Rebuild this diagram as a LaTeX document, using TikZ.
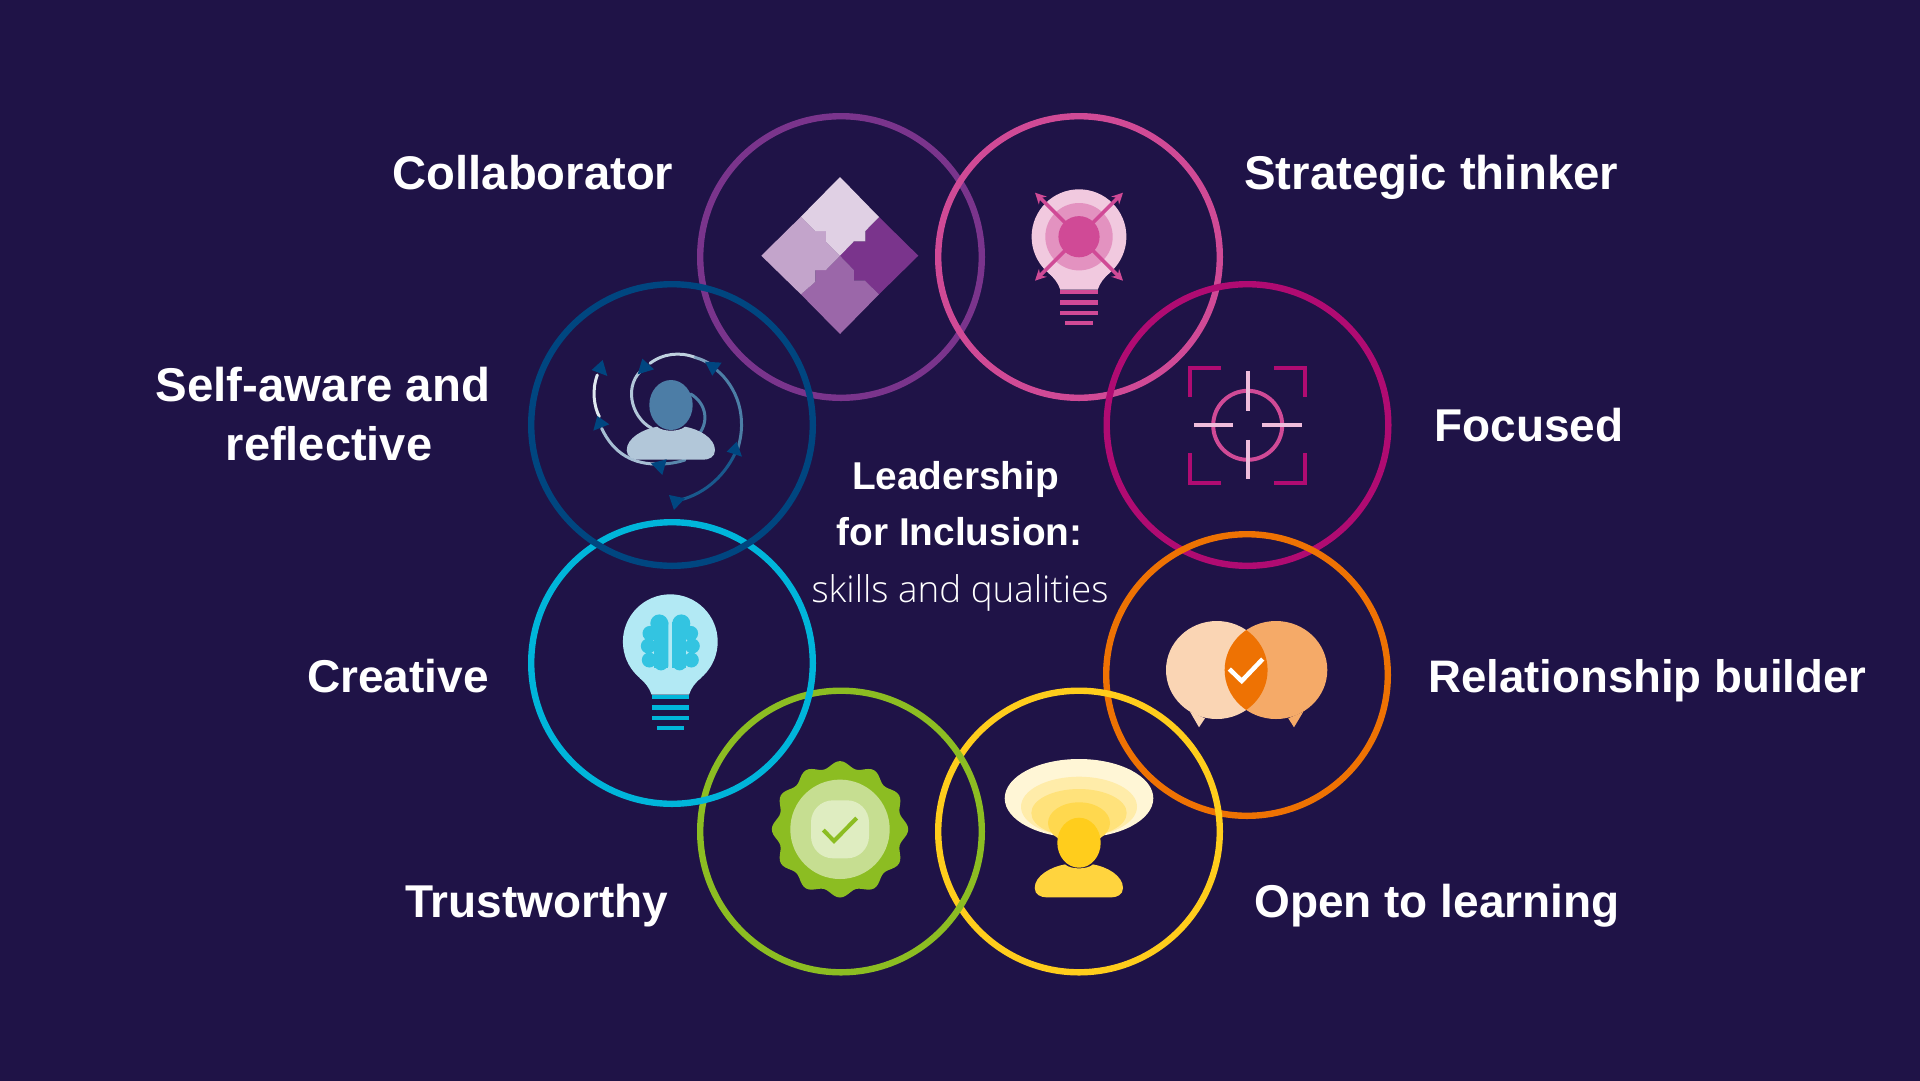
\documentclass[tikz,border=0pt]{standalone}
\usepackage{fontspec}
\usepackage{xcolor}
\usepackage{tikz}
\usetikzlibrary{arrows.meta,positioning}
\setmainfont{Liberation Sans}
\newfontfamily\lightfont[UprightFont={* Light}]{Open Sans}
\definecolor{bgNavy}{HTML}{1F1347}
\definecolor{ringPurple}{HTML}{7A348C}
\definecolor{ringPink}{HTML}{D04A96}
\definecolor{ringMagenta}{HTML}{B00B72}
\definecolor{ringOrange}{HTML}{EE7203}
\definecolor{ringYellow}{HTML}{FFCD1C}
\definecolor{ringGreen}{HTML}{8CBD22}
\definecolor{ringCyan}{HTML}{00B5DA}
\definecolor{ringBlue}{HTML}{004680}
\definecolor{hairPink}{HTML}{EFBDDC}
\newcommand{\drawbulb}[4]{
  \begin{scope}[shift={(#1,#2)}]
    \fill[#3] (0,0) circle[radius=47.4];
    \fill[#3] (-31,36) .. controls (-25,41) and (-21,46) .. (-18.7,53) -- (18.7,53) .. controls (21,46) and (25,41) .. (31,36) -- cycle;
    \foreach \y in {53.2,63.4,73.8} \fill[#4] (-18.7,\y) rectangle (18.7,\y+4.4);
    \fill[#4] (-13.7,84.1) rectangle (13.7,88.5);
  \end{scope}
}
\newcommand{\drawperson}[4]{
  \begin{scope}[shift={(#1,#2)}]
    \fill[#4] (-44.3,45.3) .. controls (-44.3,33) and (-28,24) .. (-14,21.7) .. controls (-8,27) and (8,27) .. (14,21.7) .. controls (28,24) and (44,33) .. (44,45.3) .. controls (44,52) and (38,54.7) .. (32,54.7) -- (-32,54.7) .. controls (-38,54.7) and (-44.3,52) .. (-44.3,45.3) -- cycle;
    \fill[#3] (0,0) ellipse[x radius=21.7, y radius=25];
  \end{scope}
}
\begin{document}
\begin{tikzpicture}[
  x=1pt, y=-1pt,
  ring/.style={circle, line width=6.4pt, minimum size=281.6pt, inner sep=0pt},
  label/.style={text=white, inner sep=0pt, font=\fontsize{#1}{59}\selectfont\bfseries},
  label/.default=46,
  centre/.style={text=white, inner sep=0pt, anchor=base, font=\fontsize{#1}{46}\selectfont\bfseries},
  centre/.default=38.8,
  spoke/.style={-{Stealth[length=11pt,width=11pt]}, line width=3.5pt, draw=ringPink},
  bracket/.style={line width=4pt, draw=ringMagenta},
  hair/.style={line width=4pt, draw=hairPink},
  swirl/.style={line width=3pt, line cap=round},
  swirlhead/.style={fill=ringBlue}
]
\useasboundingbox (0,0) rectangle (1920,1080);
\fill[bgNavy] (-4,-4) rectangle (1924,1084);

% rings
\node[ring, draw=ringPurple] (collab) at (841,257) {};
\node[ring, draw=ringPink] (thinker) at (1079,257) {};
\node[ring, draw=ringMagenta] (focused) at (1247.5,425) {};
\node[ring, draw=ringOrange] (builder) at (1247,675) {};
\node[ring, draw=ringYellow] (learning) at (1079,831.5) {};
\node[ring, draw=ringGreen] (trust) at (841,831.5) {};
\node[ring, draw=ringCyan] (creative) at (672,663) {};
\node[ring, draw=ringBlue] (selfaware) at (672,425) {};

% labels
\node[label=47.2, anchor=base east] (collabText) at (673.5,189) {Collaborator};
\node[label=47.4, anchor=base west] (thinkerText) at (1244,189) {Strategic thinker};
\node[label, anchor=base west] (focusedText) at (1434,441) {Focused};
\node[label=45.6, anchor=base west] (builderText) at (1428,692) {Relationship builder};
\node[label, anchor=base west] (learningText) at (1254,917) {Open to learning};
\node[label, anchor=base east] (trustText) at (668.5,917) {Trustworthy};
\node[label, anchor=base east] (creativeText) at (489,692) {Creative};
\node[label=47.4, anchor=base] (selfText) at (323,401.5) {Self-aware and};
\node[label=47, anchor=base] (reflectText) at (329,460.5) {reflective};
\node[centre] (titleA) at (955.5,489.5) {Leadership};
\node[centre] (titleB) at (959.5,545.5) {for Inclusion:};
\node[centre, font=\fontsize{36.8}{46}\selectfont\lightfont] (titleC) at (960,602) {skills and qualities};

% puzzle
\fill[ringPurple] (879,217) -- (918.3,255.7) -- (879,294.3) -- (864.6,280.3) -- (853.9,280.3) -- (853.9,270) -- (840,255.7) -- (853.9,241.3) -- (865.3,241.3) -- (865.3,231) -- cycle;
\fill[ringPurple!75!white] (840,255.7) -- (853.9,270) -- (853.9,280.3) -- (864.6,280.3) -- (879,294.3) -- (840,334) -- (800.9,294.3) -- (815.4,281.7) -- (815.4,270) -- (826,270) -- cycle;
\fill[ringPurple!45!white] (761.3,255.7) -- (800.9,216.7) -- (815.4,231) -- (826,231) -- (826,241.7) -- (840,255.7) -- (826,270) -- (815.4,270) -- (815.4,281.7) -- (800.9,294.3) -- cycle;
\fill[ringPurple!23!white] (840,177) -- (879,217) -- (865.3,231) -- (865.3,241.3) -- (853.9,241.3) -- (840,255.7) -- (826,241.7) -- (826,231) -- (815.4,231) -- (800.9,216.7) -- cycle;

% target bulb
\drawbulb{1079}{236.7}{ringPink!30!white}{ringPink}
\fill[ringPink!60!white] (1079,236.7) circle[radius=33.7];
\fill[ringPink] (1079,236.7) circle[radius=20.6];
\foreach \sx/\sy in {1/-1,-1/-1,-1/1,1/1}
  \draw[spoke] (1079+\sx*14,236.7+\sy*14) -- (1079+\sx*44,236.7+\sy*44);

% crosshair
\begin{scope}[shift={(1247.7,425.3)}]
  \draw[line width=4pt, draw=ringPink] (0,0) circle[radius=34.5];
  \foreach \sx/\sy in {1/1,1/-1,-1/1,-1/-1}
    \draw[bracket] (\sx*26.4,\sy*57.7) -- (\sx*57.7,\sy*57.7) -- (\sx*57.7,\sy*28);
  \foreach \s in {1,-1} {
    \draw[hair] (0,\s*14.5) -- (0,\s*54);
    \draw[hair] (\s*14.5,0) -- (\s*54,0);
  }
\end{scope}

% speech bubbles
\fill[ringOrange!30!white] (1190,711.7) -- (1199,727.3) -- (1205,718.3) -- cycle;
\fill[ringOrange!30!white] (1216.8,670) ellipse[x radius=50.8, y radius=49];
\fill[ringOrange!60!white] (1288.3,718.3) -- (1294,727.3) -- (1303.3,711.7) -- cycle;
\fill[ringOrange!60!white] (1276,670) ellipse[x radius=51.3, y radius=49];
\begin{scope}
  \clip (1216.8,670) ellipse[x radius=50.8, y radius=49];
  \fill[ringOrange] (1276,670) ellipse[x radius=51.3, y radius=49];
\end{scope}
\draw[white, line width=4.5pt] (1229.3,669) -- (1241.7,681) -- (1262.7,659);

% light above head
\fill[ringYellow!18!white] (1079,798.3) ellipse[x radius=74.3, y radius=39.3];
\fill[ringYellow!38!white] (1079,806.7) ellipse[x radius=58, y radius=30];
\fill[ringYellow!58!white] (1079,813) ellipse[x radius=47.7, y radius=24];
\fill[ringYellow!78!white] (1079,823) ellipse[x radius=31, y radius=20.7];
\drawperson{1079}{842.7}{ringYellow}{ringYellow!85!white}

% badge
\fill[ringGreen] plot[domain=0:360, samples=145, smooth cycle] ({840+(65+3.2*cos(12*\x))*cos(\x)},{829.3+(65+3.2*cos(12*\x))*sin(\x)});
\fill[ringGreen!50!white] (840,829.3) circle[radius=49.7];
\node[fill=ringGreen!28!white, rounded corners=22pt, minimum size=58pt, inner sep=0pt] (badgeCore) at (840,829.3) {};
\draw[ringGreen, line width=4pt] (823.3,830) -- (834,841) -- (856.7,818);

% brain bulb
\drawbulb{670.3}{641.7}{ringCyan!30!white}{ringCyan}
\foreach \s in {1,-1} {
  \begin{scope}[shift={(670.3,641.7)}, xscale=\s]
    \fill[ringCyan!80!white] (-16,-20) rectangle (-2,26);
    \fill[ringCyan!80!white] (-11,-18.3) circle[radius=9];
    \fill[ringCyan!80!white] (-20.3,-8.3) circle[radius=7.5];
    \fill[ringCyan!80!white] (-22,4.3) circle[radius=7.5];
    \fill[ringCyan!80!white] (-21,18.3) circle[radius=7.5];
    \fill[ringCyan!80!white] (-9.3,21.7) circle[radius=7];
    \fill[ringCyan!80!white] (-2,-20) -- (-2,25) -- (-12,25) -- cycle;
  \end{scope}
}

% swirl around person
\begin{scope}[shift={(520,280)}, x=0.3333pt, y=-0.3333pt]
  \draw[swirl, draw=white!88!ringBlue] (232,285) .. controls (215,330) and (222,380) .. (238,410);
  \draw[swirl, draw=ringBlue!35!white] (245,445) .. controls (280,520) and (340,555) .. (420,552);
  \draw[swirl, draw=ringBlue!65!white] (420,552) .. controls (445,552) and (470,548) .. (495,540);
  \draw[swirl, draw=ringBlue!30!white] (395,445) .. controls (330,410) and (310,310) .. (372,265);
  \draw[swirl, draw=ringBlue!25!white] (390,250) .. controls (430,220) and (480,215) .. (525,232);
  \draw[swirl, draw=ringBlue!50!white] (525,232) .. controls (545,238) and (560,245) .. (575,255);
  \draw[swirl, draw=ringBlue!70!white] (590,270) .. controls (650,320) and (685,410) .. (652,510);
  \draw[swirl, draw=ringBlue!90!white] (650,510) .. controls (620,580) and (560,640) .. (480,660);
  \draw[swirl, draw=ringBlue!70!white] (512,342) .. controls (560,370) and (570,430) .. (530,470);
\end{scope}
\drawperson{671}{405}{ringBlue!70!white}{ringBlue!30!white}
\begin{scope}[shift={(520,280)}, x=0.3333pt, y=-0.3333pt]
  \fill[swirlhead] (215,270) -- (248,240) -- (262,288) -- cycle;
  \fill[swirlhead] (220,452) -- (268,433) -- (232,408) -- cycle;
  \fill[swirlhead] (393,550) -- (440,538) -- (427,585) -- cycle;
  \fill[swirlhead] (353,283) -- (402,268) -- (367,236) -- cycle;
  \fill[swirlhead] (555,245) -- (605,248) -- (577,287) -- cycle;
  \fill[swirlhead] (620,515) -- (666,530) -- (650,485) -- cycle;
  \fill[swirlhead] (447,645) -- (495,655) -- (462,690) -- cycle;
\end{scope}
\end{tikzpicture}
\end{document}
